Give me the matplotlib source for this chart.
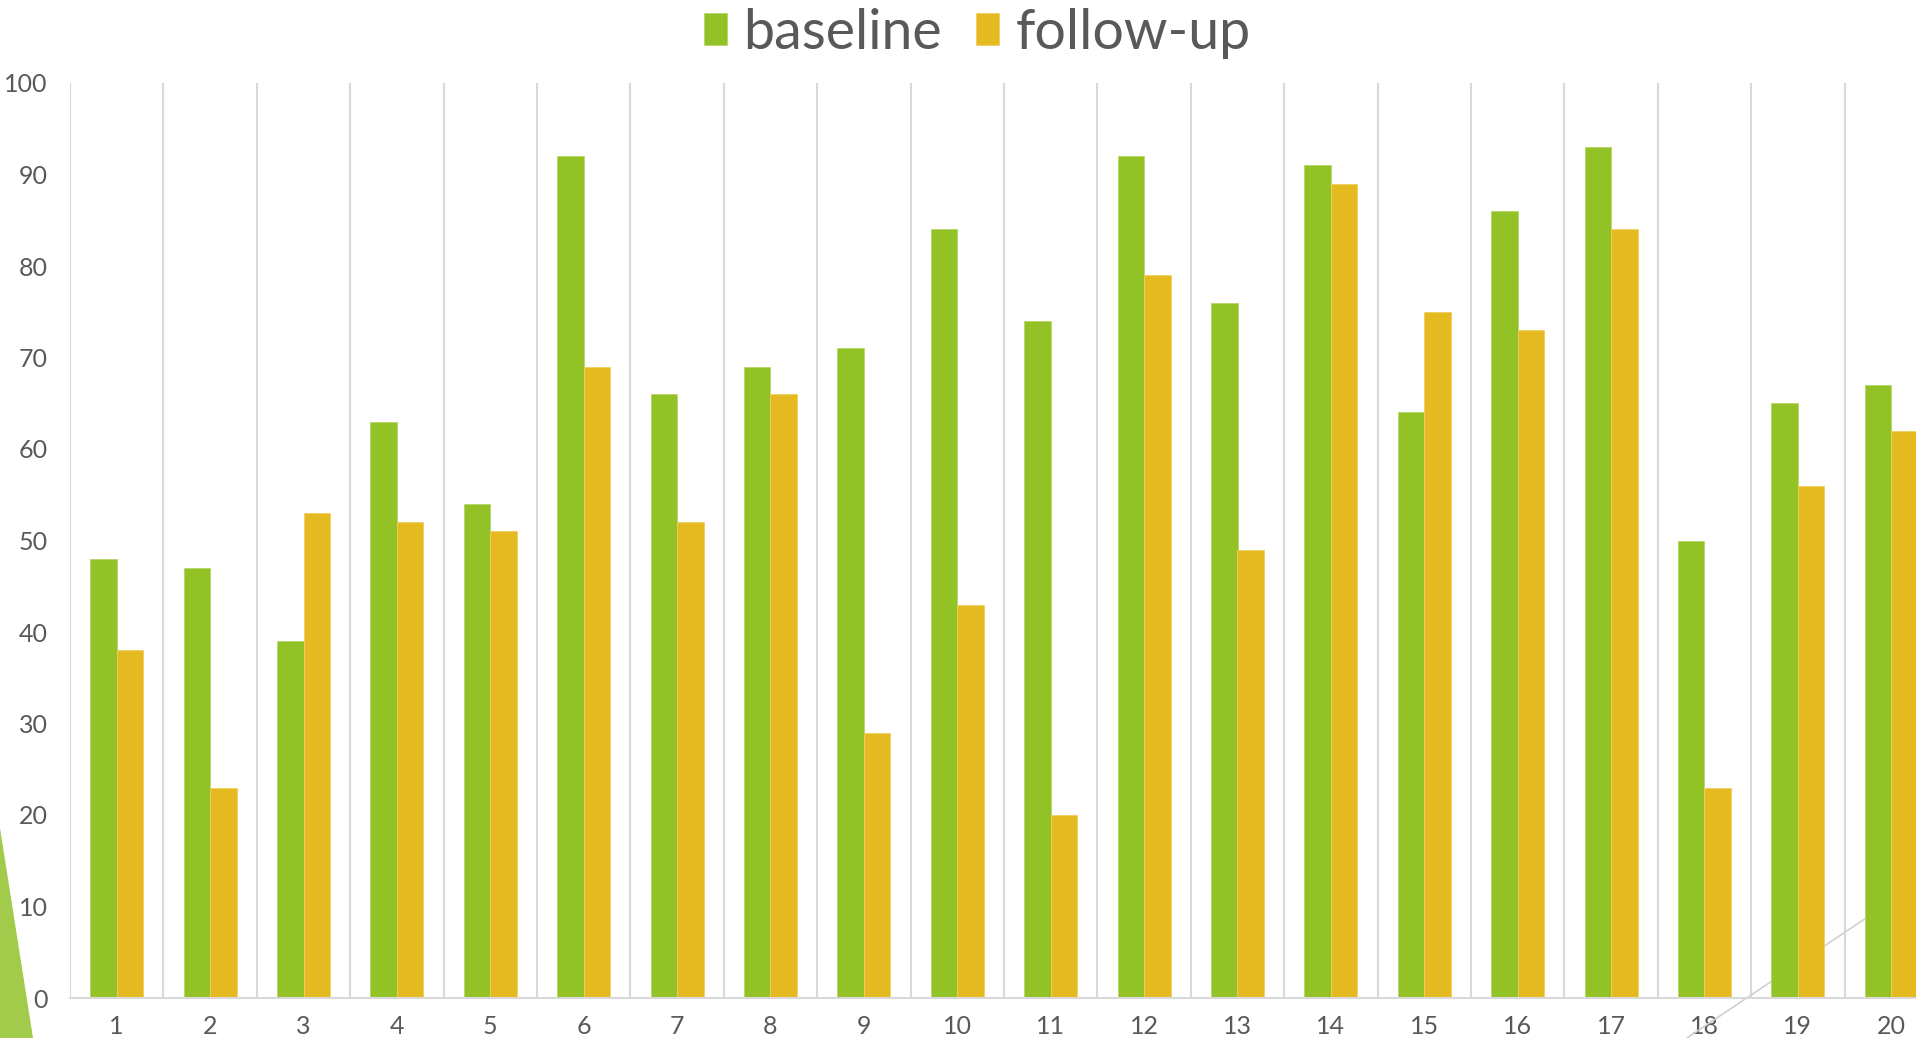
import numpy as np
import matplotlib.pyplot as plt
from matplotlib.patches import Polygon
from matplotlib.lines import Line2D

plt.rcParams['font.family'] = ['Lato', 'DejaVu Sans']

# Scores per participant
participants = [str(i) for i in range(1, 21)]
baseline = [48, 47, 39, 63, 54, 92, 66, 69, 71, 84, 74, 92, 76, 91, 64, 86, 93, 50, 65, 67]
follow_up = [38, 23, 53, 52, 51, 69, 52, 66, 29, 43, 20, 79, 49, 89, 75, 73, 84, 23, 56, 62]

GREEN = '#93C227'
GOLD = '#E5B920'
GRID = '#D9D9D9'
TEXT = '#595959'

W, H = 1916, 1038
fig = plt.figure(figsize=(W / 100, H / 100), dpi=100)

# plot area runs a little past the right edge of the slide
ax = fig.add_axes([70 / W, 40 / H, 1868 / W, 915 / H])
ax.patch.set_alpha(0)

x = np.arange(1, len(participants) + 1)
bw = 0.284
ax.bar(x - bw / 2, baseline, bw, color=GREEN, edgecolor='#b5d66a', linewidth=0.6,
       label='baseline', zorder=2)
ax.bar(x + bw / 2, follow_up, bw, color=GOLD, edgecolor='#f0d060', linewidth=0.6,
       label='follow-up', zorder=2)

ax.set_xlim(0.5, len(participants) + 0.5)
ax.set_ylim(0, 100)
ax.set_yticks(range(0, 101, 10))
ax.set_xticks(x)
ax.set_xticklabels(participants)
ax.set_xticks(np.arange(0.5, len(participants) + 1), minor=True)
ax.tick_params(axis='both', which='both', length=0, labelsize=18, labelcolor=TEXT)
ax.tick_params(axis='x', pad=12)
ax.tick_params(axis='y', pad=16)
ax.grid(which='minor', axis='x', color=GRID, linewidth=1.5, zorder=0.5)
ax.grid(which='major', visible=False)
ax.set_axisbelow(True)

for side in ['top', 'right', 'left']:
    ax.spines[side].set_visible(False)
ax.spines['bottom'].set_color(GRID)
ax.spines['bottom'].set_linewidth(1.5)

# slide decorations
fig.patches.append(Polygon([(0, 1 - 828 / H), (33 / W, 0), (0, 0)], closed=True,
                           transform=fig.transFigure, facecolor='#A2CA4B',
                           edgecolor='none'))
ax.add_line(Line2D([1687 / W, 1990 / W], [0, 1 - (1038 - 203) / H],
                   transform=fig.transFigure, color='#D0D0D0', linewidth=1.2,
                   zorder=0.6, clip_on=False))

fig.legend(loc='center', bbox_to_anchor=(0.51, 0.968), ncol=2, frameon=False,
           fontsize=40, labelcolor=TEXT, handlelength=0.42, handleheight=0.5,
           handletextpad=0.3, columnspacing=0.6)

fig.savefig('out.png', dpi=100)
